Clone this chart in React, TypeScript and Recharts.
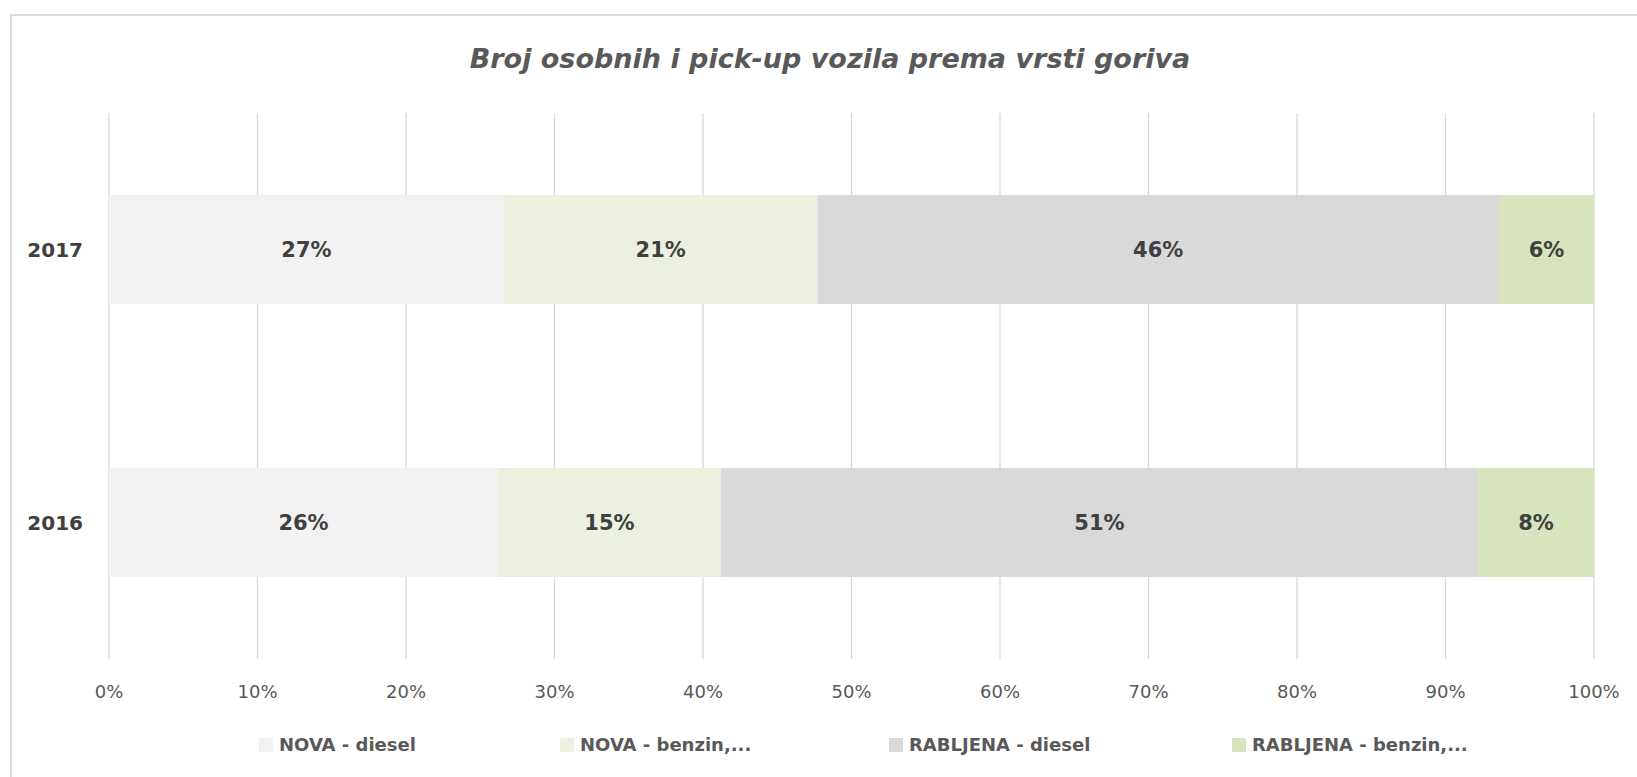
import React from "react";
import { BarChart, Bar, XAxis, YAxis, CartesianGrid, Legend, LabelList } from "recharts";

const years = ["2017", "2016"];
const novaDiesel = [26.6, 26.2];
const novaBenzin = [21.1, 15.0];
const rabljenaDiesel = [45.9, 51.0];
const rabljenaBenzin = [6.4, 7.8];
const xTicks = [0, 10, 20, 30, 40, 50, 60, 70, 80, 90, 100];

const seriesNames = ["NOVA - diesel", "NOVA - benzin,...", "RABLJENA - diesel", "RABLJENA - benzin,..."];
const seriesKeys = ["novaDiesel", "novaBenzin", "rabljenaDiesel", "rabljenaBenzin"];
const seriesColors = ["#F2F2F2", "#EBF1DE", "#D9D9D9", "#D7E4BD"];

const data = years.map((y, i) => ({
  year: y,
  novaDiesel: novaDiesel[i],
  novaBenzin: novaBenzin[i],
  rabljenaDiesel: rabljenaDiesel[i],
  rabljenaBenzin: rabljenaBenzin[i],
}));

const FONT = "'DejaVu Sans', sans-serif";

const legendWidths = [301, 329, 343, 300];

const LegendContent = () => (
  <div style={{ display: "flex", paddingLeft: 259, fontFamily: FONT }}>
    {seriesNames.map((n, i) => (
      <div key={n} style={{ width: legendWidths[i], display: "flex", alignItems: "center" }}>
        <span style={{ width: 14, height: 14, background: seriesColors[i], display: "inline-block", marginRight: 6 }} />
        <span style={{ fontSize: 18, fontWeight: 700, color: "#595959" }}>{n}</span>
      </div>
    ))}
  </div>
);

export default function App() {
  return (
    <div style={{ position: "absolute", left: 0, top: 0, width: 1637, height: 777, background: "#fff", overflow: "hidden" }}>
      <div style={{ position: "absolute", left: 10, top: 14, width: 1700, height: 900, borderLeft: "2px solid #D9D9D9", borderTop: "2px solid #D9D9D9" }} />
      <div style={{ position: "absolute", left: 0, width: 1660, top: 43, textAlign: "center", fontFamily: FONT, fontSize: 27, fontWeight: 700, fontStyle: "italic", color: "#595959" }}>
        Broj osobnih i pick-up vozila prema vrsti goriva
      </div>
      <div style={{ position: "absolute", left: 0, top: 0 }}>
        <BarChart
          width={1637}
          height={777}
          data={data}
          layout="vertical"
          barCategoryGap="30%"
          margin={{ top: 113, right: 43, bottom: 22, left: 0 }}
        >
          <CartesianGrid horizontal={false} stroke="#D9D9D9" strokeWidth={1.3} />
          <XAxis
            type="number"
            domain={[0, 100]}
            ticks={xTicks}
            tickFormatter={(v) => `${v}%`}
            axisLine={false}
            tickLine={false}
            tickMargin={20}
            height={75}
            tick={{ fill: "#595959", fontSize: 18, fontFamily: FONT }}
          />
          <YAxis
            type="category"
            dataKey="year"
            width={109}
            axisLine={false}
            tickLine={false}
            tickMargin={20}
            tick={{ fill: "#404040", fontSize: 20, fontWeight: 700, fontFamily: FONT }}
          />
          <Legend verticalAlign="bottom" content={<LegendContent />} />
          {seriesKeys.map((k, i) => (
            <Bar key={k} dataKey={k} name={seriesNames[i]} stackId="a" fill={seriesColors[i]} isAnimationActive={false}>
              <LabelList
                dataKey={k}
                position="center"
                formatter={(v: number) => `${Math.round(v)}%`}
                style={{ fill: "#404040", fontSize: 21, fontWeight: 700, fontFamily: FONT }}
              />
            </Bar>
          ))}
        </BarChart>
      </div>
    </div>
  );
}
